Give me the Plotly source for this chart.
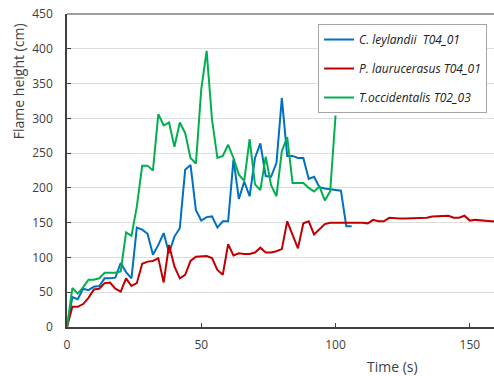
import plotly.graph_objects as go

# Flame height measurements (cm), sampled every 2 s
time_leylandii = list(range(0, 107, 2))
height_leylandii = [0, 43, 40, 55, 53, 58, 59, 70, 70, 71, 92, 79, 70, 143, 140, 134,
                    104, 118, 135, 106, 130, 142, 226, 233, 168, 153, 158, 159, 143, 152,
                    152, 241, 184, 209, 188, 243, 264, 217, 216, 236, 329, 246, 246, 243,
                    243, 213, 216, 201, 199, 198, 197, 196, 145, 145]

time_laurocerasus = list(range(0, 161, 2))
height_laurocerasus = [0, 29, 29, 33, 42, 54, 55, 63, 64, 55, 51, 70, 59, 63, 91, 94,
                       95, 99, 64, 118, 87, 70, 75, 95, 101, 102, 102, 99, 82, 75,
                       119, 103, 106, 105, 105, 107, 114, 107, 107, 109, 112, 152, 132, 113,
                       149, 152, 133, 141, 148, 150, 150, 150, 151, 151, 151, 150, 149, 154,
                       152, 152, 157, 156, 156, 156, 156, 156, 157, 157, 159, 159, 160, 160,
                       157, 157, 160, 153, 154, 153, 152, 152, 152]

time_occidentalis = list(range(0, 101, 2))
height_occidentalis = [0, 56, 48, 57, 68, 68, 70, 78, 78, 78, 80, 136, 131, 173, 232, 232,
                       225, 306, 290, 294, 259, 294, 279, 243, 235, 342, 397, 298, 243, 246,
                       262, 243, 219, 210, 270, 205, 197, 245, 204, 188, 253, 273, 207, 207,
                       207, 200, 195, 202, 182, 195, 304]

series_names = ["C. leylandii  T04_01", "P. laurucerasus T04_01", "T.occidentalis T02_03"]
series_colors = ["#0070C0", "#C00000", "#00B050"]

x_ticks = [0, 50, 100, 150]
y_ticks = [0, 50, 100, 150, 200, 250, 300, 350, 400, 450]

text_color = "#404040"
font_family = "Open Sans, Liberation Sans, sans-serif"

fig = go.Figure()
for i, (t, h) in enumerate([(time_leylandii, height_leylandii),
                            (time_laurocerasus, height_laurocerasus),
                            (time_occidentalis, height_occidentalis)]):
    fig.add_trace(go.Scatter(
        x=t, y=h, mode="lines", name=series_names[i],
        legendgroup=f"g{i}",
        line=dict(color=series_colors[i], width=2),
    ))

fig.update_layout(
    width=494, height=376,
    margin=dict(l=67, r=0, t=14, b=49),
    paper_bgcolor="white", plot_bgcolor="white",
    font=dict(family=font_family, color=text_color, size=12),
    showlegend=True,
    legend=dict(
        x=0.588, y=0.968, xanchor="left", yanchor="top",
        bordercolor="#A6A6A6", borderwidth=1, bgcolor="white",
        font=dict(size=12, style="italic", color="#202020"),
        tracegroupgap=10, itemwidth=30,
    ),
    xaxis=dict(
        range=[0, 159], tickvals=x_ticks, ticks="inside", ticklen=4,
        tickcolor="#404040", showline=True, linecolor="#404040", linewidth=1.5,
        showgrid=False, zeroline=False, ticklabelstandoff=6,
        tickfont=dict(size=12),
    ),
    yaxis=dict(
        range=[0, 450], tickvals=y_ticks, ticks="inside", ticklen=4,
        tickcolor="#404040", showline=True, linecolor="#404040", linewidth=1.5,
        showgrid=True, gridcolor="#DDDDDD", gridwidth=1.2, zeroline=False,
        ticklabelstandoff=10, tickfont=dict(size=12),
    ),
    shapes=[dict(type="line", xref="paper", yref="paper", x0=0, x1=1, y0=1, y1=1,
                 line=dict(color="#7F7F7F", width=1.5))],
    annotations=[
        dict(text="Flame height (cm)", xref="paper", yref="paper",
             x=-0.115, y=0.785, textangle=-90, showarrow=False,
             xanchor="center", yanchor="middle", font=dict(size=14)),
        dict(text="Time (s)", xref="paper", yref="paper",
             x=0.763, y=-0.125, showarrow=False,
             xanchor="center", yanchor="middle", font=dict(size=14)),
    ],
)

fig.write_html("out.html")
